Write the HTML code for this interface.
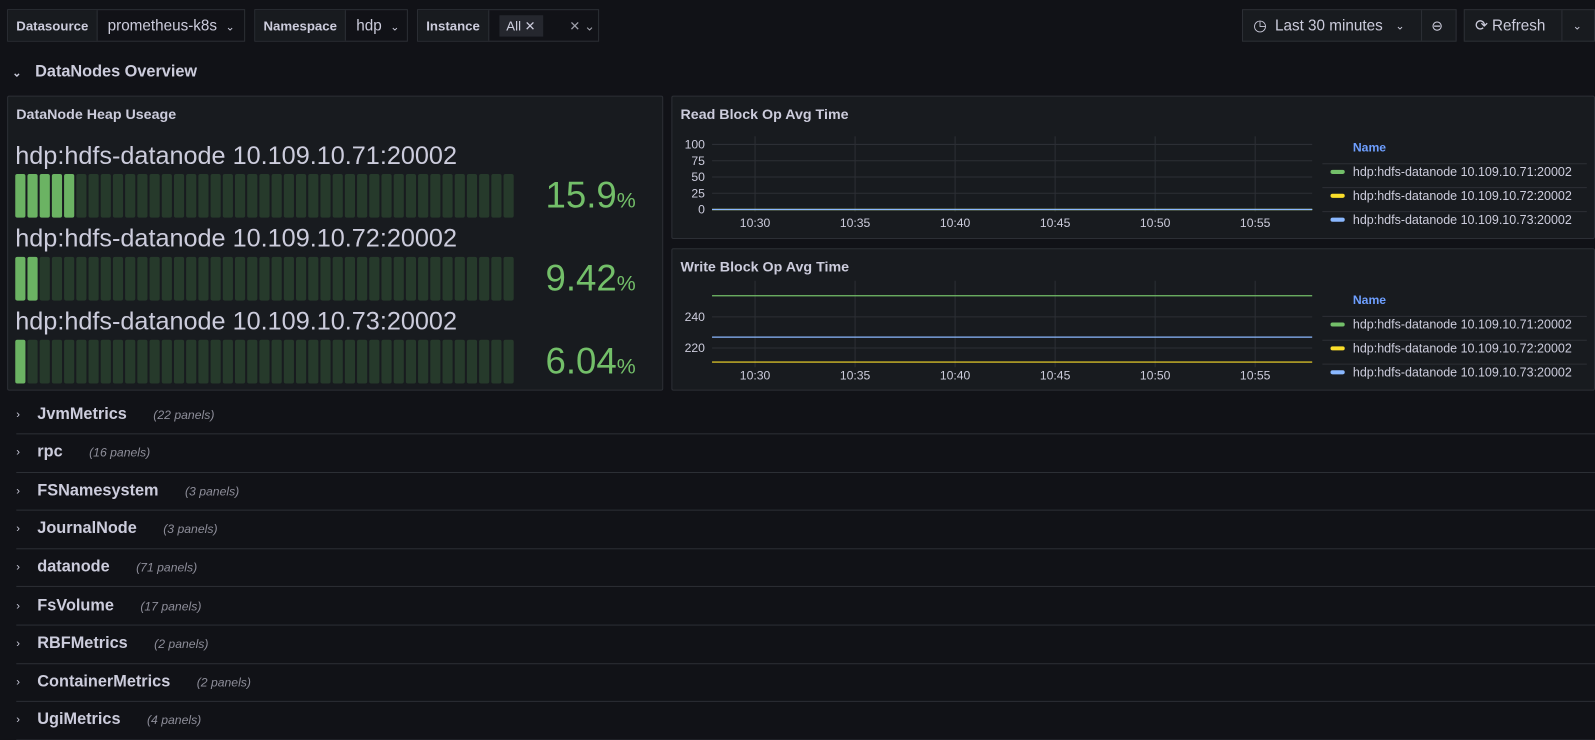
<!DOCTYPE html>
<html><head><meta charset="utf-8"><style>
*{box-sizing:border-box;margin:0;padding:0}
body{width:1595px;height:718px;background:#111217;font-family:"Liberation Sans",sans-serif;color:#ccccdc;overflow:hidden;position:relative}
#wrap{position:absolute;left:0;top:0;width:1568px;height:706px;transform:scale(1.0172);transform-origin:0 0}
.abs{position:absolute}
.box{position:absolute;border:1px solid #2c2f35;background:#111217;height:32px;top:9px;display:flex;align-items:center;font-size:14px;white-space:nowrap}
.lbl{background:#181b1f;padding:0 8px;height:100%;display:flex;align-items:center;border-right:1px solid #2c2f35;font-size:13px;font-weight:bold;color:#ccccdc}
.val{padding:0 10px;font-size:15px;white-space:nowrap}
.panel{position:absolute;background:#181b1f;border:1px solid #2c2f35;border-radius:2px}
.ptitle{position:absolute;left:8px;top:9px;font-size:14px;font-weight:bold;color:#ccccdc}
.row{position:absolute;left:16px;width:1552px;height:38px;border-bottom:1px solid #2c2f35;display:flex;align-items:center}
.row .t{font-size:16px;font-weight:bold;color:#ccccdc;margin-left:17px}
.row .c{font-size:12px;font-style:italic;color:#8e8e9a;margin-left:26px}
</style></head><body><div id="wrap">
<div class="box" style="left:7px;width:234px"><div class="lbl">Datasource</div><div class="val">prometheus-k8s &nbsp;<span style="font-size:11px">⌄</span></div></div>
<div class="box" style="left:250px;width:151px"><div class="lbl">Namespace</div><div class="val">hdp &nbsp;<span style="font-size:11px">⌄</span></div></div>
<div class="box" style="left:410px;width:179px"><div class="lbl">Instance</div><div class="val"><span style="background:#25272e;padding:3px 7px;font-size:13px">All ✕</span><span style="margin-left:26px;font-size:13px;color:#9fa0aa">✕ ⌄</span></div></div>
<div class="box" style="left:1221px;width:211px;background:#181b1f"><div class="val" style="width:176px;border-right:1px solid #2c2f35;height:100%;display:flex;align-items:center">◷&nbsp; Last 30 minutes &nbsp;&nbsp;<span style="font-size:11px">⌄</span></div><div style="padding:0 9px">⊖</div></div>
<div class="box" style="left:1439px;width:129px;background:#181b1f"><div class="val" style="width:96px;border-right:1px solid #2c2f35;height:100%;display:flex;align-items:center">⟳&nbsp;Refresh</div><div style="padding:0 10px;font-size:11px">⌄</div></div>
<div class="abs" style="left:12px;top:62px;font-size:16px;font-weight:bold"><span style="font-size:11px">⌄</span>&nbsp;&nbsp; DataNodes Overview</div>

<div class="panel" style="left:7px;top:94px;width:645px;height:290px">
<div class="ptitle">DataNode Heap Useage</div>
<svg id="gauge" class="abs" style="left:-1px;top:-1px" width="645" height="290"></svg>
</div>
<div class="panel" style="left:660px;top:94px;width:908px;height:141px">
<div class="ptitle">Read Block Op Avg Time</div>
<svg id="read" class="abs" style="left:-1px;top:-1px" width="908" height="141"></svg>
</div>
<div class="panel" style="left:660px;top:244px;width:908px;height:140px">
<div class="ptitle">Write Block Op Avg Time</div>
<svg id="write" class="abs" style="left:-1px;top:-1px" width="908" height="140"></svg>
</div>

<div id="rows"></div>
</div>
<script>
const gaugeNames=["hdp:hdfs-datanode 10.109.10.71:20002","hdp:hdfs-datanode 10.109.10.72:20002","hdp:hdfs-datanode 10.109.10.73:20002"];
const gaugeValues=[15.9,9.42,6.04];
const gaugeMax=129;
const seriesNames=["hdp:hdfs-datanode 10.109.10.71:20002","hdp:hdfs-datanode 10.109.10.72:20002","hdp:hdfs-datanode 10.109.10.73:20002"];
const seriesColors=["#73bf69","#fade2a","#8ab8ff"];
const timeTicks=["10:30","10:35","10:40","10:45","10:50","10:55"];
const readValues=[0,0,0];
const readTicks=[0,25,50,75,100];
const writeValues=[253.6,211,227];
const writeTicks=[220,240];
const rowNames=["JvmMetrics","rpc","FSNamesystem","JournalNode","datanode","FsVolume","RBFMetrics","ContainerMetrics","UgiMetrics"];
const rowCounts=[22,16,3,3,71,17,2,2,4];
const NS="http://www.w3.org/2000/svg";
function mk(p,tag,a){const e=document.createElementNS(NS,tag);for(const k in a)e.setAttribute(k,a[k]);p.appendChild(e);return e;}
const g=document.getElementById('gauge');const N=41;
gaugeValues.forEach((v,i)=>{
 const top=i*81.5;
 const t=mk(g,'text',{x:8,y:67+top,'font-size':24.8,fill:'#ccccdc','font-family':'Liberation Sans'});t.textContent=gaugeNames[i];
 
 
 const lit=Math.floor(v/gaugeMax*N);
 for(let c=0;c<N;c++){const r=mk(g,'rect',{x:8+c*12,y:77+top,width:10,height:43,rx:2,fill:c<lit?'#6bb363':'#263a2b'});
  
  }
 const vt=mk(g,'text',{x:618,y:110+top,'text-anchor':'end',fill:'#73bf69','font-family':'Liberation Sans'});
 
 
 const s1=mk(vt,'tspan',{'font-size':36});s1.textContent=String(v);
 const s2=mk(vt,'tspan',{'font-size':21});s2.textContent='%';
});
function chart(id,vals,ticks,ymin,ymax,plotTop,plotBot,tickY,legTop){
 const s=document.getElementById(id);
 const x0=40,x1=630;
 const tStart=-2.15,tEnd=27.85;
 const xs=m=>x0+(m-tStart)/(tEnd-tStart)*(x1-x0);
 const ys=v=>plotBot-(v-ymin)/(ymax-ymin)*(plotBot-plotTop);
 ticks.forEach(v=>{const y=ys(v);mk(s,'line',{x1:x0,x2:x1,y1:y,y2:y,stroke:'#2c2f35'});
  const t=mk(s,'text',{x:x0-7,y:y+4,'text-anchor':'end','font-size':12,fill:'#ccccdc','font-family':'Liberation Sans'});t.textContent=v;
  
  });
 timeTicks.forEach((l,i)=>{const x=xs(i*5);mk(s,'line',{x1:x,x2:x,y1:plotTop-8,y2:plotBot+2,stroke:'#2c2f35'});
  const t=mk(s,'text',{x:x,y:tickY,'text-anchor':'middle','font-size':12,fill:'#ccccdc','font-family':'Liberation Sans'});t.textContent=l;
  
  });
 vals.forEach((v,i)=>{const l=mk(s,'line',{x1:x0,x2:x1,y1:ys(v),y2:ys(v),stroke:seriesColors[i],'stroke-width':1.2});
  
  });
 const nm=mk(s,'text',{x:670,y:legTop,'font-size':12,fill:'#6e9fff','font-weight':'bold','font-family':'Liberation Sans'});nm.textContent='Name';
 seriesNames.forEach((n,i)=>{const y=legTop+24+i*23.5;
  mk(s,'line',{x1:640,x2:900,y1:y-12,y2:y-12,stroke:'#2c2f35'});
  mk(s,'rect',{x:648,y:y-6,width:14,height:4,rx:2,fill:seriesColors[i]});
  const t=mk(s,'text',{x:670,y:y,'font-size':12.3,fill:'#ccccdc','font-family':'Liberation Sans'});t.textContent=n;
  
  });
}
chart('read',readValues,readTicks,0,100,48,112,129,55);
chart('write',writeValues,writeTicks,209,258,40,115,129,55);
const rows=document.getElementById('rows');
rowNames.forEach((n,i)=>{const d=document.createElement('div');d.className='row';d.style.top=(389+i*37.6)+'px';
 
 
 d.innerHTML='<span style="font-size:11px">›</span><span class="t">'+n+'</span><span class="c">('+rowCounts[i]+' panels)</span>';rows.appendChild(d);});
</script>
</body></html>
